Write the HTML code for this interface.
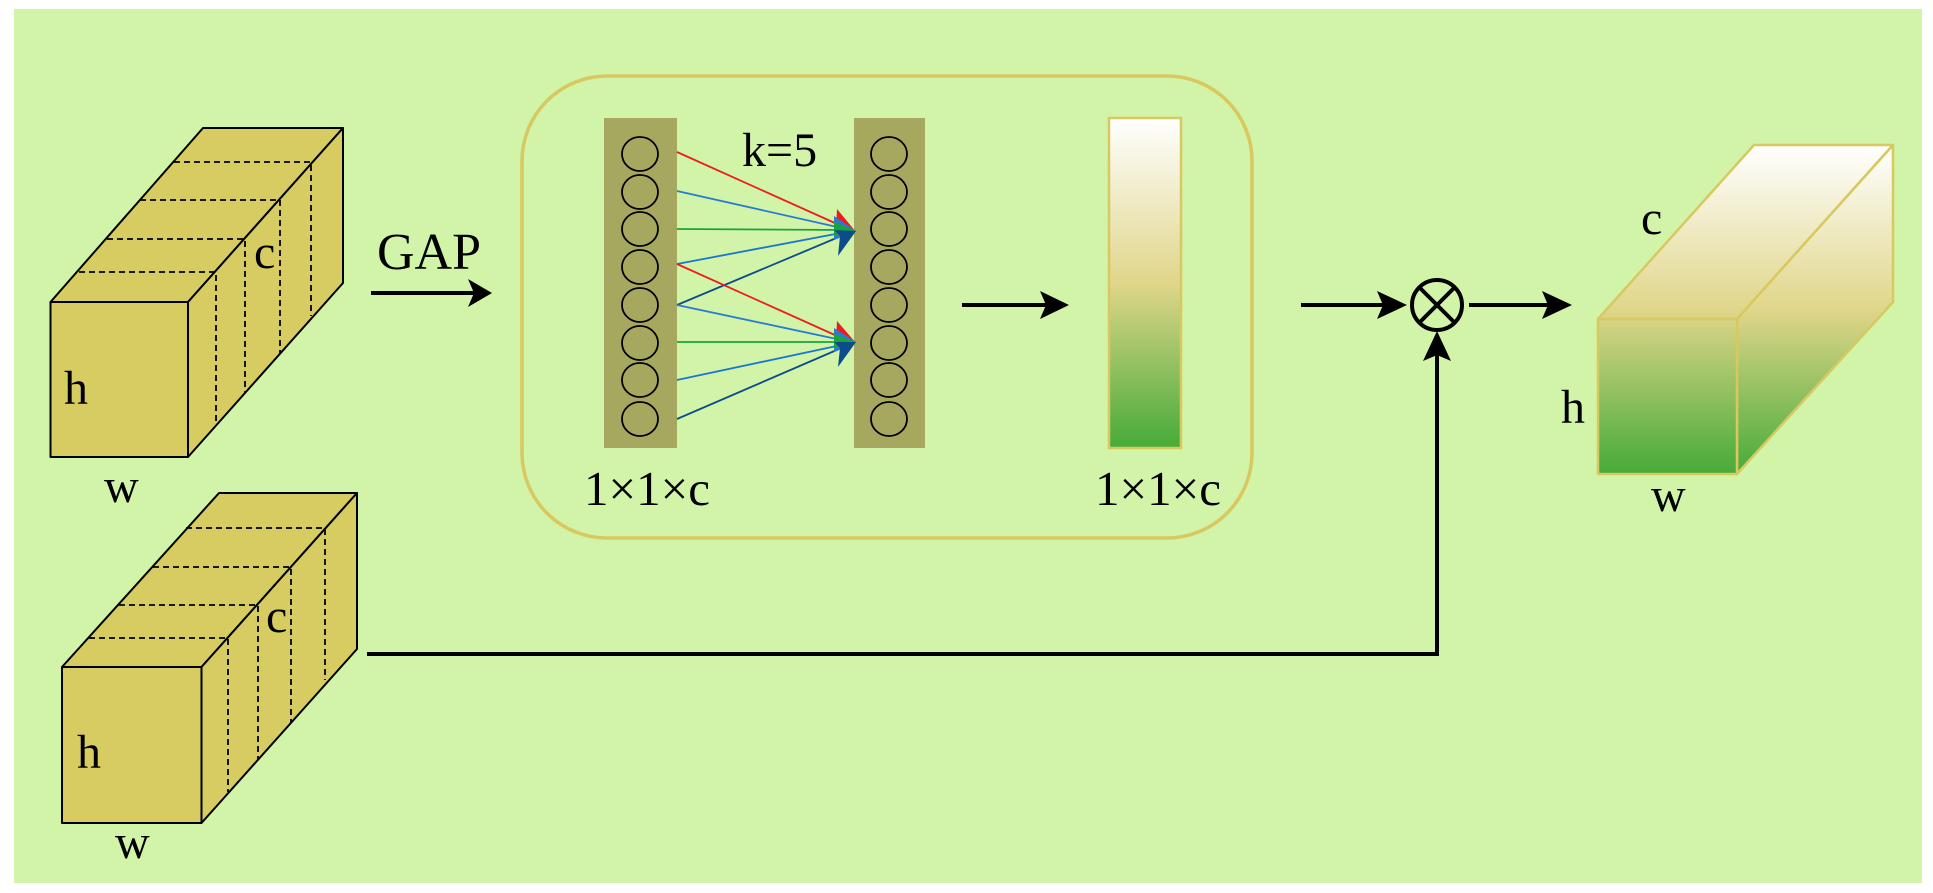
<!DOCTYPE html>
<html><head><meta charset="utf-8"><style>
html,body{margin:0;padding:0;background:#fff;}
svg{display:block;}
text{font-family:"Liberation Serif",serif;fill:#000;}
</style></head><body>
<svg width="1933" height="893" viewBox="0 0 1933 893" xmlns="http://www.w3.org/2000/svg">
<defs>
<linearGradient id="bar" x1="0" y1="0" x2="0" y2="1">
<stop offset="0" stop-color="#ffffff"/><stop offset="0.5" stop-color="#e0d68a"/><stop offset="1" stop-color="#46ab38"/>
</linearGradient>
<linearGradient id="cube" gradientUnits="userSpaceOnUse" x1="0" y1="145" x2="0" y2="474">
<stop offset="0" stop-color="#ffffff"/><stop offset="0.5" stop-color="#e0d68a"/><stop offset="1" stop-color="#46ab38"/>
</linearGradient>
</defs>
<rect x="0" y="0" width="1933" height="893" fill="#fff"/>
<rect x="14" y="9" width="1908" height="874" fill="#d1f4a9"/>

<!-- cube 1 -->
<g stroke="#000" stroke-width="2" fill="#d6cc62" stroke-linejoin="round">
<polygon points="50.5,302 203,128 343,128 188,302"/>
<polygon points="188,302 343,128 343,283 188,457"/>
<rect x="50.5" y="302" width="137.5" height="155"/>
</g>
<g stroke="#000" stroke-width="1.8" stroke-dasharray="6,4" fill="none">
<path d="M174,162 H311 V316"/>
<path d="M140,200 H280 V353"/>
<path d="M107,239 H245 V393"/>
<path d="M79,272 H216 V424"/>
</g>
<text x="64" y="404" font-size="48">h</text>
<text x="254" y="268" font-size="48">c</text>
<text x="104" y="502" font-size="48">w</text>

<!-- cube 2 -->
<g stroke="#000" stroke-width="2" fill="#d6cc62" stroke-linejoin="round">
<polygon points="62,667 219,493 357,493 201.5,667"/>
<polygon points="201.5,667 357,493 357,649 201.5,823"/>
<rect x="62" y="667" width="139.5" height="156"/>
</g>
<g stroke="#000" stroke-width="1.8" stroke-dasharray="6,4" fill="none">
<path d="M186,528 H325 V680"/>
<path d="M153,567 H291 V723"/>
<path d="M119,605 H258 V760"/>
<path d="M89,638 H228 V792"/>
</g>
<text x="77" y="768" font-size="48">h</text>
<text x="266" y="632" font-size="48">c</text>
<text x="115" y="858" font-size="48">w</text>

<!-- GAP -->
<text x="377" y="269" font-size="52">GAP</text>
<line x1="371" y1="293" x2="486" y2="293" stroke="#000" stroke-width="4"/>
<polygon points="468,279 492,293 468,307 474,293" fill="#000"/>

<!-- rounded box -->
<rect x="522" y="76" width="730" height="462" rx="85" ry="85" fill="none" stroke="#d9c860" stroke-width="3.5"/>

<!-- columns -->
<rect x="604" y="118" width="73" height="330" fill="#a5a85e"/>
<rect x="854" y="118" width="71" height="330" fill="#a5a85e"/>
<g fill="none" stroke="#000" stroke-width="1.8">
<ellipse cx="640" cy="154" rx="18" ry="17"/><ellipse cx="640" cy="192" rx="18" ry="17"/>
<ellipse cx="640" cy="229" rx="18" ry="17"/><ellipse cx="640" cy="267" rx="18" ry="17"/>
<ellipse cx="640" cy="305" rx="18" ry="17"/><ellipse cx="640" cy="343" rx="18" ry="17"/>
<ellipse cx="640" cy="380" rx="18" ry="17"/><ellipse cx="640" cy="419" rx="18" ry="17"/>
<ellipse cx="889" cy="154" rx="18" ry="17"/><ellipse cx="889" cy="192" rx="18" ry="17"/>
<ellipse cx="889" cy="229" rx="18" ry="17"/><ellipse cx="889" cy="267" rx="18" ry="17"/>
<ellipse cx="889" cy="305" rx="18" ry="17"/><ellipse cx="889" cy="343" rx="18" ry="17"/>
<ellipse cx="889" cy="380" rx="18" ry="17"/><ellipse cx="889" cy="419" rx="18" ry="17"/>
</g>
<g stroke-width="1.8">
<line x1="677" y1="152" x2="846" y2="228" stroke="#ee1c1c"/>
<line x1="677" y1="191" x2="846" y2="229" stroke="#2a7bd0"/>
<line x1="677" y1="229" x2="846" y2="230" stroke="#1aa33c"/>
<line x1="677" y1="264" x2="846" y2="232" stroke="#1a78cc"/>
<line x1="677" y1="305" x2="846" y2="234" stroke="#0c4c8a"/>
<line x1="677" y1="264" x2="846" y2="340" stroke="#ee1c1c"/>
<line x1="677" y1="305" x2="846" y2="341" stroke="#2a7bd0"/>
<line x1="677" y1="342" x2="846" y2="342" stroke="#1aa33c"/>
<line x1="677" y1="380" x2="846" y2="344" stroke="#1a78cc"/>
<line x1="677" y1="419" x2="846" y2="346" stroke="#0c4c8a"/>
</g>
<polygon points="837,209 856,232 836,228" fill="#ee1c1c"/>
<polygon points="834,216 856,231 834,240" fill="#2a7bd0"/>
<polygon points="834,222 856,231 834,236" fill="#1aa33c"/>
<polygon points="834,230 856,231 838,256 840,236" fill="#0c4c8a"/>
<polygon points="837,321 856,343 836,340" fill="#ee1c1c"/>
<polygon points="834,328 856,342 834,352" fill="#2a7bd0"/>
<polygon points="834,334 856,342 834,348" fill="#1aa33c"/>
<polygon points="834,342 856,342 838,367 840,348" fill="#0c4c8a"/>
<text x="742" y="166" font-size="48">k=5</text>
<text x="584" y="505" font-size="49">1×1×c</text>

<!-- arrow in box -->
<line x1="962" y1="305" x2="1062" y2="305" stroke="#000" stroke-width="4"/>
<polygon points="1040,291 1069,305 1040,319 1046,305" fill="#000"/>

<!-- bar -->
<rect x="1109" y="118" width="72" height="330" fill="url(#bar)" stroke="#d9c860" stroke-width="2.5"/>
<text x="1095" y="505" font-size="49">1×1×c</text>

<!-- arrow to otimes -->
<line x1="1301" y1="305" x2="1400" y2="305" stroke="#000" stroke-width="4"/>
<polygon points="1377,291 1407,305 1377,319 1383,305" fill="#000"/>
<circle cx="1437" cy="305" r="25" fill="none" stroke="#000" stroke-width="4"/>
<line x1="1419" y1="287" x2="1455" y2="323" stroke="#000" stroke-width="4"/>
<line x1="1455" y1="287" x2="1419" y2="323" stroke="#000" stroke-width="4"/>
<line x1="1469" y1="305" x2="1565" y2="305" stroke="#000" stroke-width="4"/>
<polygon points="1542,291 1572,305 1542,319 1548,305" fill="#000"/>

<!-- bottom connector -->
<polyline points="367,654 1437,654 1437,340" fill="none" stroke="#000" stroke-width="4"/>
<polygon points="1423,361 1437,331 1451,361 1437,355" fill="#000"/>

<!-- output cube -->
<g stroke="#d9c860" stroke-width="2.5" fill="url(#cube)" stroke-linejoin="round">
<polygon points="1598,319 1754,145 1893,145 1737,319"/>
<polygon points="1737,319 1893,145 1893,302 1737,474"/>
<rect x="1598" y="319" width="139" height="155"/>
</g>
<text x="1641" y="234" font-size="48">c</text>
<text x="1561" y="423" font-size="48">h</text>
<text x="1651" y="511" font-size="48">w</text>
</svg>
</body></html>
